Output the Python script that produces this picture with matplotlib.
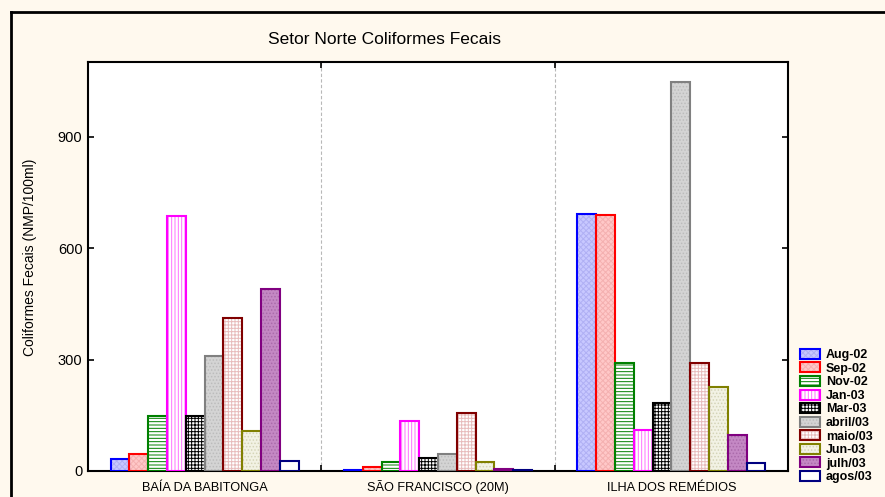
import matplotlib
matplotlib.use("Agg")
import matplotlib.pyplot as plt
import matplotlib.transforms as mtransforms
import numpy as np
from matplotlib.patches import Patch
from matplotlib.lines import Line2D
from matplotlib.legend_handler import HandlerTuple

plt.rcParams['font.family'] = ['Liberation Sans', 'DejaVu Sans']
plt.rcParams['hatch.linewidth'] = 0.7

stations = ["BAÍA DA BABITONGA", "SÃO FRANCISCO (20M)", "ILHA DOS REMÉDIOS"]
months = ["Aug-02", "Sep-02", "Nov-02", "Jan-03", "Mar-03", "abril/03",
          "maio/03", "Jun-03", "julh/03", "agos/03"]
values = {
    "Aug-02":   [31, 3, 692],
    "Sep-02":   [47, 11, 690],
    "Nov-02":   [148, 25, 291],
    "Jan-03":   [688, 135, 110],
    "Mar-03":   [148, 36, 184],
    "abril/03": [310, 45, 1047],
    "maio/03":  [411, 155, 291],
    "Jun-03":   [109, 24, 227],
    "julh/03":  [490, 6, 96],
    "agos/03":  [26, 2, 21],
}
yticks = [0, 300, 600, 900]

edge_colors = ['#0000ff', '#ff0000', '#008000', '#ff00ff', '#000000',
               '#808080', '#800000', '#808000', '#800080', '#000080']
fill_colors = ['#c8c8ff', '#ffc8c8', '#ffffff', '#ffffff', '#ffffff',
               '#d4d4d4', '#ffffff', '#f2f2e4', '#c488c4', '#ffffff']
hatch_colors = ['#b0b0f4', '#f4b0b0', '#008000', '#ff70ff', '#000000',
                '#bcbcbc', '#e8bcbc', '#d4d4b8', '#aa6aaa', '#ffffff']
hatches = ['xxxxxx', 'xxxxxx', '-----', '|||||', '+++++', '.....',
           '+++++', '.....', '.....', '']

fig = plt.figure(figsize=(8.85, 4.97), dpi=100)
fig.patch.set_facecolor('#fff9ee')
ax = fig.add_axes([88/885, 26/497, 700/885, 409/497])
ax.set_facecolor('white')

n = len(months)
w = 0.0806
x = np.arange(len(stations))
for i, m in enumerate(months):
    pos = x + (i - (n - 1) / 2) * w
    ax.bar(pos, values[m], width=w, color=fill_colors[i], edgecolor=hatch_colors[i],
           hatch=hatches[i], linewidth=0, zorder=3)
    ax.bar(pos, values[m], width=w, fill=False, edgecolor=edge_colors[i],
           linewidth=1.5, zorder=4)

for b in [0.5, 1.5]:
    ax.axvline(b, color='#b8b8b8', linestyle=(0, (3, 2)), linewidth=0.8, zorder=1)

ax.set_xlim(-0.5, 2.5)
ax.set_ylim(0, 1102)
ax.set_yticks(yticks)
ax.set_yticklabels([str(v) for v in yticks], fontsize=10.5)
ax.set_xticks(x)
ax.set_xticklabels([])
trans = mtransforms.blended_transform_factory(ax.transData, fig.transFigure)
for xi, lab in zip(x, stations):
    ax.text(xi, 1 - 491/497, lab, transform=trans, ha='center', va='baseline',
            fontsize=9.2)
ax.set_xticks([0.5, 1.5], minor=True)
ax.tick_params(axis='x', which='major', length=0)
ax.tick_params(axis='x', which='minor', direction='in', length=4, width=1.2, top=True, bottom=True)
ax.tick_params(axis='y', direction='in', length=4, width=1.2, left=True, right=True, pad=4)
for s in ax.spines.values():
    s.set_linewidth(1.5)

fig.text(30/885, 1 - 257/497, "Coliformes Fecais (NMP/100ml)", fontsize=10,
         rotation=90, ha='center', va='center')
fig.text(384/885, 1 - 40/497, "Setor Norte Coliformes Fecais", fontsize=12.5,
         ha='center', va='center')

# frame lines
fig.add_artist(Line2D([11/885, 11/885], [0, 1 - 12/497], color='black', linewidth=2,
                      transform=fig.transFigure))
fig.add_artist(Line2D([11/885, 1], [1 - 12/497, 1 - 12/497], color='black', linewidth=2,
                      transform=fig.transFigure))

handles = [(Patch(facecolor=fill_colors[i], edgecolor=hatch_colors[i], hatch=hatches[i],
                  linewidth=0),
            Patch(fill=False, edgecolor=edge_colors[i], linewidth=1.5))
           for i in range(n)]
leg = fig.legend(handles, months, loc='lower left', bbox_to_anchor=(791/885, 5/497),
                 frameon=False, prop={'weight': 'bold', 'size': 9},
                 handler_map={tuple: HandlerTuple(ndivide=1, pad=0)},
                 handlelength=1.6, handleheight=0.85, handletextpad=0.5,
                 labelspacing=0.1, borderpad=0.2)

fig.savefig("out.png", dpi=100, facecolor=fig.get_facecolor())
